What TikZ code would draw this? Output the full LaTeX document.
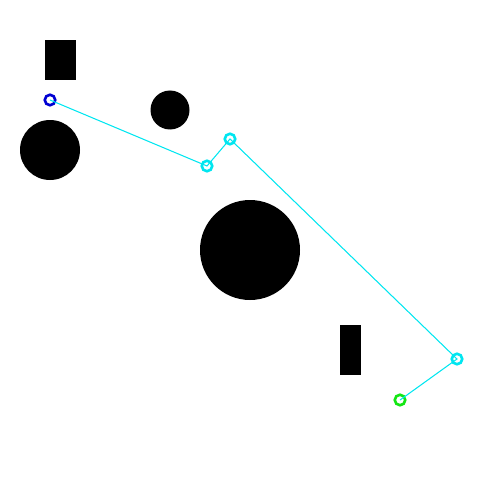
\documentclass[tikz,border=0pt]{standalone}
\usetikzlibrary{positioning}
\definecolor{pathcyan}{RGB}{0,230,240}
\definecolor{startblue}{RGB}{0,0,210}
\definecolor{goalgreen}{RGB}{20,230,20}
\tikzset{
	obst/.style={fill=black, draw=none},
	waypt/.style={circle, draw=pathcyan, line width=1.5pt, inner sep=0pt, minimum size=0.21cm},
	pathseg/.style={pathcyan, line width=0.6pt},
}
\begin{document}
\begin{tikzpicture}[x=0.02cm, y=-0.02cm]
	\useasboundingbox (0,0) rectangle (500,500);
	% Obstacles
	\fill[obst] (45,40) rectangle (76,80);
	\fill[obst] (170,110) circle (19.5);
	\fill[obst] (50,150) circle (30);
	\fill[obst] (250,250) circle (50);
	\fill[obst] (340,325) rectangle (361,375);

	% Waypoints
	\node[waypt, draw=startblue] (start) at (50,100) {};
	\node[waypt] (w1) at (207,166) {};
	\node[waypt] (w2) at (230,139) {};
	\node[waypt] (w3) at (457,359) {};
	\node[waypt, draw=goalgreen] (goal) at (400,400) {};

	% Path
	\draw[pathseg] (start.center) -- (w1.center) -- (w2.center) -- (w3.center) -- (goal.center);
\end{tikzpicture}
\end{document}
